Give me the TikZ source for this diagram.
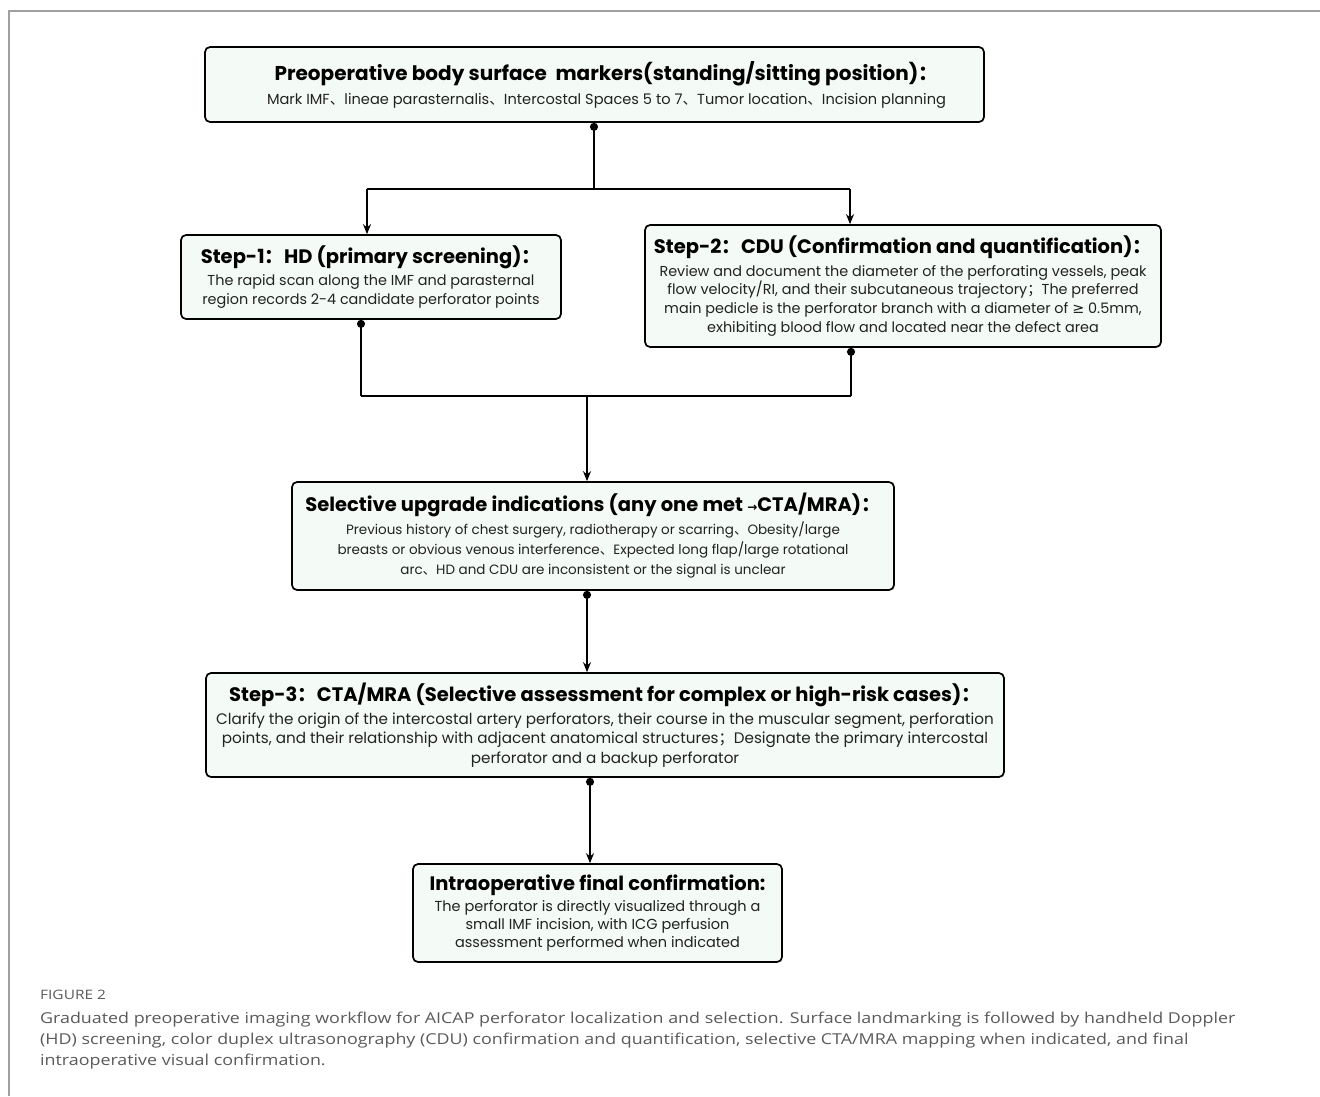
\documentclass[tikz,border=0pt]{standalone}
\usepackage{fontspec}
\setmainfont{Poppins}
\newfontfamily\zhfont{Noto Sans CJK SC}
\newfontfamily\symfont{DejaVu Sans}
\newfontfamily\capfont[FakeStretch=1.19]{Open Sans}
\usetikzlibrary{arrows.meta}
\newcommand\zh[1]{{\zhfont #1}}
\newcommand\sy[1]{{\symfont #1}}
\definecolor{boxfill}{HTML}{F4FAF6}
\definecolor{framegray}{HTML}{A0A0A0}
\definecolor{capgray}{HTML}{5A5A5A}
\definecolor{bodytext}{HTML}{222222}
\begin{document}
\begin{tikzpicture}[x=1pt,y=-1pt,
  box/.style={draw=black, line width=1.7pt, rounded corners=5pt, fill=boxfill,
    align=center, inner sep=0pt, text=bodytext},
  conn/.style={line width=1.7pt, draw=black},
  dotarrow/.style={conn, {Circle[length=8pt]}-{Stealth[length=10pt,width=8pt]}},
  dotline/.style={conn, {Circle[length=8pt]}-},
  plainarrow/.style={conn, -{Stealth[length=10pt,width=8pt]}}]
\newcommand\ttl[2][19.5]{{\color{black}\bfseries\fontsize{#1}{#1}\selectfont #2}}
\useasboundingbox (0,0) rectangle (1320,1096);
\fill[white] (0,0) rectangle (1320,1096);
\draw[framegray, line width=1.2pt] (9,1096) -- (9,11) -- (1320,11);

\node[box, minimum width=779pt, minimum height=75pt, font=\fontsize{14.6}{19}\selectfont] (top) at (594.5,84.5)
 {\hspace*{24pt}\ttl[20]{Preoperative body surface \ markers(standing/sitting position)\zh{：}}\\[5pt]
  \hspace*{24pt}Mark IMF\zh{、}lineae parasternalis\zh{、}Intercostal Spaces 5 to 7\zh{、}Tumor location\zh{、}Incision planning};

\node[box, minimum width=380pt, minimum height=84pt, font=\fontsize{14.4}{18.5}\selectfont] (s1) at (371,277)
 {\ttl{Step-1\zh{：}HD (primary screening)\zh{：}}\\[4pt]
  The rapid scan along the IMF and parasternal\\
  region records 2-4 candidate perforator points};

\node[box, minimum width=516pt, minimum height=122pt, font=\fontsize{14.4}{18.7}\selectfont] (s2) at (903,286)
 {\ttl{Step-2\zh{：}CDU (Confirmation and quantification)\zh{：}}\\[4pt]
  Review and document the diameter of the perforating vessels, peak\\
  flow velocity/RI, and their subcutaneous trajectory\zh{；}The preferred\\
  main pedicle is the perforator branch with a diameter of \sy{≥} 0.5mm,\\
  exhibiting blood flow and located near the defect area};

\node[box, minimum width=602pt, minimum height=108pt, font=\fontsize{13.5}{20}\selectfont] (sel) at (593,536)
 {\ttl{Selective upgrade indications (any one met \sy{\fontsize{12}{12}\selectfont →}CTA/MRA)\zh{：}}\\[3pt]
  Previous history of chest surgery, radiotherapy or scarring\zh{、}Obesity/large\\
  breasts or obvious venous interference\zh{、}Expected long flap/large rotational\\
  arc\zh{、}HD and CDU are inconsistent or the signal is unclear};

\node[box, minimum width=798pt, minimum height=104pt, font=\fontsize{15.2}{19.5}\selectfont] (s3) at (605,725)
 {\ttl{Step-3\zh{：}CTA/MRA (Selective assessment for complex or high-risk cases)\zh{：}}\\[3pt]
  Clarify the origin of the intercostal artery perforators, their course in the muscular segment, perforation\\
  points, and their relationship with adjacent anatomical structures\zh{；}Designate the primary intercostal\\
  perforator and a backup perforator};

\node[box, minimum width=369pt, minimum height=98pt, font=\fontsize{14.5}{18}\selectfont] (fin) at (597.5,913)
 {\ttl{Intraoperative final confirmation:}\\[3pt]
  The perforator is directly visualized through a\\
  small IMF incision, with ICG perfusion\\
  assessment performed when indicated};

% connectors
\coordinate (fork) at (594,189);
\coordinate (forkL) at (367,189);
\coordinate (forkR) at (850,189);
\draw[dotline] (top.south -| fork) -- (fork);
\draw[conn] (forkL) -- (forkR);
\draw[plainarrow] (forkL) -- (s1.north -| forkL);
\draw[plainarrow] (forkR) -- (s2.north -| forkR);

\coordinate (joinL) at (361,396);
\coordinate (joinR) at (851,396);
\coordinate (join) at (587,396);
\draw[dotline] (s1.south -| joinL) -- (joinL);
\draw[dotline] (s2.south -| joinR) -- (joinR);
\draw[conn] (joinL) -- (joinR);
\draw[plainarrow] (join) -- (sel.north -| join);

\coordinate (c3) at (587,600);
\draw[dotarrow] (sel.south -| c3) -- (s3.north -| c3);
\coordinate (c4) at (590,790);
\draw[dotarrow] (s3.south -| c4) -- (fin.north -| c4);

% caption
\node[anchor=west, text=capgray, font=\capfont\fontsize{13}{14}\selectfont, inner sep=0pt] (figlabel) at (40,995) {FIGURE 2};
\node[anchor=north west, text=capgray, align=left, inner sep=0pt,
  font=\capfont\fontsize{15}{21}\selectfont] (caption) at (40,1012)
 {Graduated preoperative imaging workflow for AICAP perforator localization and selection. Surface landmarking is followed by handheld Doppler\\
  (HD) screening, color duplex ultrasonography (CDU) confirmation and quantification, selective CTA/MRA mapping when indicated, and final\\
  intraoperative visual confirmation.};
\end{tikzpicture}
\end{document}
